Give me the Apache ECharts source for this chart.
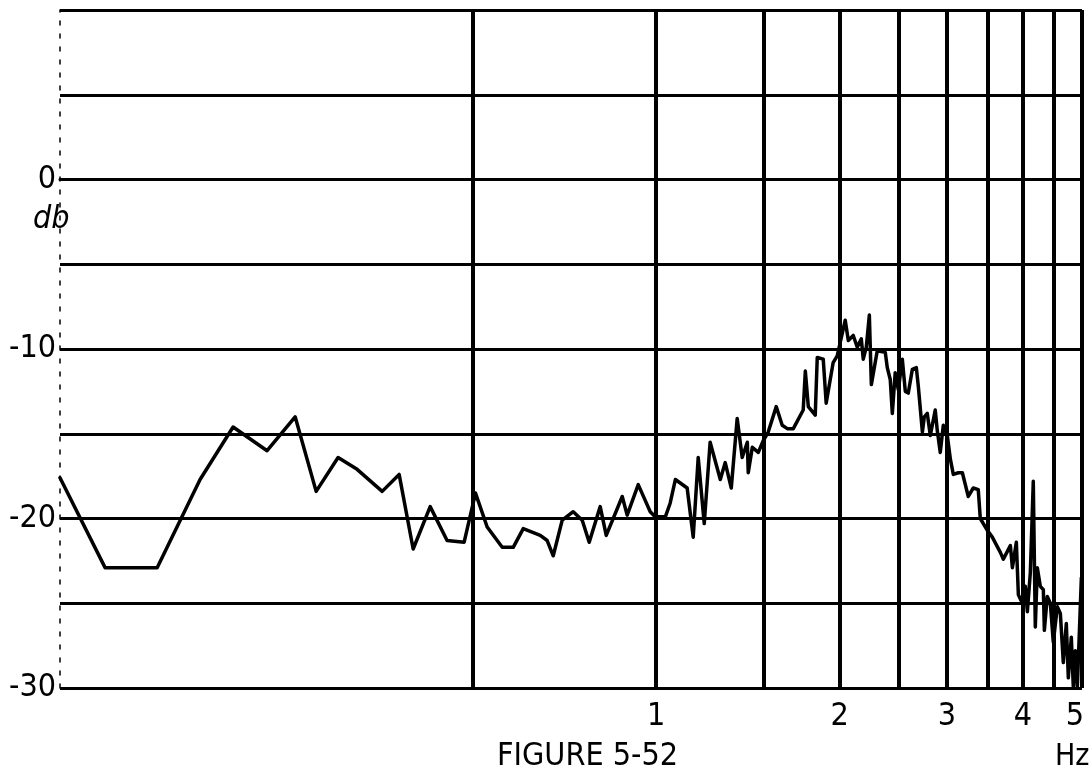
<!DOCTYPE html>
<html>
<head>
<meta charset="utf-8">
<title>FIGURE 5-52</title>
<script src="https://cdn.jsdelivr.net/npm/echarts@6/dist/echarts.min.js"></script>
<style>
  html, body { margin: 0; padding: 0; background: #fff; }
  #chart { width: 1090px; height: 777px; }
</style>
</head>
<body>
<div id="chart"></div>
<script>
// Spectrum level (dB) against frequency (Hz), log frequency scale
const freqHz = [
  0.105, 0.1245, 0.1516, 0.1783, 0.202, 0.2297, 0.2554, 0.2765, 0.3004, 0.3228,
  0.3549, 0.3784, 0.399, 0.4255, 0.4536, 0.4838, 0.505, 0.5278, 0.5587, 0.5824,
  0.6049, 0.6451, 0.6622, 0.6775, 0.7009, 0.7307, 0.756, 0.7762, 0.8091, 0.8278,
  0.8794, 0.896, 0.9342, 0.9776, 0.9962, 1.035, 1.054, 1.075, 1.124, 1.150,
  1.172, 1.199, 1.226, 1.274, 1.298, 1.328, 1.358, 1.384, 1.411, 1.416,
  1.438, 1.471, 1.499, 1.527, 1.574, 1.610, 1.641, 1.679, 1.743, 1.757,
  1.777, 1.824, 1.838, 1.880, 1.901, 1.952, 1.982, 2.043, 2.067, 2.106,
  2.138, 2.171, 2.187, 2.212, 2.238, 2.255, 2.306, 2.377, 2.395, 2.422,
  2.441, 2.468, 2.497, 2.535, 2.564, 2.593, 2.633, 2.673, 2.693, 2.735,
  2.755, 2.786, 2.818, 2.871, 2.893, 2.926, 2.960, 3.005, 3.040, 3.074,
  3.133, 3.181, 3.253, 3.315, 3.378, 3.404, 3.496, 3.562, 3.672, 3.714,
  3.814, 3.843, 3.901, 3.931, 3.991, 4.036, 4.067, 4.113, 4.159, 4.191,
  4.223, 4.271, 4.320, 4.337, 4.385, 4.436, 4.486, 4.555, 4.607, 4.659,
  4.712, 4.748, 4.802, 4.838, 4.875, 4.912, 4.988
];
const levelDb = [
  -17.6, -22.9, -22.9, -17.7, -14.6, -16.0, -14.0, -18.4, -16.4, -17.1,
  -18.4, -17.4, -21.8, -19.3, -21.3, -21.4, -18.5, -20.5, -21.7, -21.7,
  -20.6, -21.0, -21.3, -22.2, -20.1, -19.6, -20.1, -21.4, -19.3, -21.0,
  -18.7, -19.8, -18.0, -19.6, -19.9, -19.9, -19.1, -17.7, -18.2, -21.1,
  -16.4, -20.3, -15.5, -17.7, -16.7, -18.2, -14.1, -16.4, -15.5, -17.3,
  -15.8, -16.1, -15.4, -14.9, -13.4, -14.5, -14.7, -14.7, -13.6, -11.3,
  -13.4, -13.9, -10.5, -10.6, -13.2, -10.8, -10.4, -8.3, -9.5, -9.2,
  -9.9, -9.4, -10.6, -9.9, -8.0, -12.1, -10.1, -10.2, -11.1, -11.8,
  -13.8, -11.4, -12.4, -10.6, -12.5, -12.6, -11.2, -11.1, -12.2, -14.9,
  -14.0, -13.8, -15.1, -13.6, -14.8, -16.1, -14.5, -15.1, -16.5, -17.4,
  -17.3, -17.3, -18.7, -18.2, -18.3, -20.0, -20.7, -21.1, -22.0, -22.4,
  -21.6, -22.9, -21.4, -24.5, -25.0, -24.0, -25.5, -23.2, -17.8, -26.4,
  -22.9, -24.0, -24.2, -26.6, -24.6, -25.0, -27.3, -25.2, -25.6, -28.5,
  -26.2, -29.4, -27.0, -29.9, -27.8, -30.0, -23.5
];

// Frequency grid lines and the ones that carry a label
const gridFreqs = [0.5, 1, 1.5, 2, 2.5, 3, 3.5, 4, 4.5, 5];
const labeledFreqs = [1, 2, 3, 4, 5];
// Level axis: grid every 5 dB, labels on these values
const dbLabels = [0, -10, -20, -30];
const dbMin = -30, dbMax = 10, dbStep = 5;
const freqMin = 0.105, freqMax = 5;

const FONT = "'DejaVu Sans Condensed', 'Liberation Sans Narrow', 'DejaVu Sans', sans-serif";
const INK = '#000';

const chart = echarts.init(document.getElementById('chart'), null, { renderer: 'canvas' });

const freqLines = gridFreqs.map(f => ({
  xAxis: f,
  label: {
    show: labeledFreqs.includes(f),
    formatter: String(f),
    padding: f === freqMax ? [0, 14, 0, 0] : 0
  }
}));

chart.setOption({
  backgroundColor: '#fff',
  animation: false,
  title: [
    { text: 'db', left: 28, top: 199,
      textStyle: { fontFamily: FONT, fontSize: 32, fontStyle: 'italic', fontWeight: 'normal', color: INK } },
    { text: 'FIGURE 5-52', left: 492, top: 736,
      textStyle: { fontFamily: FONT, fontSize: 32, fontWeight: 'normal', color: INK } },
    { text: 'Hz', left: 1050, top: 737,
      textStyle: { fontFamily: FONT, fontSize: 30, fontWeight: 'normal', color: INK } }
  ],
  grid: { left: 60, right: 8, top: 10, bottom: 89, outerBoundsMode: 'none' },
  xAxis: {
    type: 'log',
    logBase: 10,
    min: freqMin,
    max: freqMax,
    axisLine: { show: true, lineStyle: { color: INK, width: 3 } },
    axisTick: { show: false },
    axisLabel: { show: false },
    splitLine: { show: false },
    minorSplitLine: { show: false }
  },
  yAxis: {
    type: 'value',
    min: dbMin,
    max: dbMax,
    interval: dbStep,
    axisLine: { show: true, onZero: false, lineStyle: { color: INK, width: 1.5, type: [4, 9] } },
    axisTick: { show: false },
    axisLabel: {
      margin: 4,
      fontFamily: FONT,
      fontSize: 32,
      color: INK,
      formatter: v => (dbLabels.includes(v) ? String(v) : '')
    },
    splitLine: { show: true, lineStyle: { color: INK, width: 3 } }
  },
  series: [{
    type: 'line',
    data: freqHz.map((f, i) => [f, levelDb[i]]),
    showSymbol: false,
    symbol: 'none',
    silent: true,
    lineStyle: { color: INK, width: 3.5, join: 'round', cap: 'round' },
    markLine: {
      silent: true,
      symbol: 'none',
      animation: false,
      lineStyle: { color: INK, width: 4, type: 'solid' },
      label: {
        position: 'start',
        distance: 13,
        fontFamily: FONT,
        fontSize: 32,
        color: INK
      },
      emphasis: { disabled: true },
      data: freqLines
    }
  }]
});
</script>
</body>
</html>
